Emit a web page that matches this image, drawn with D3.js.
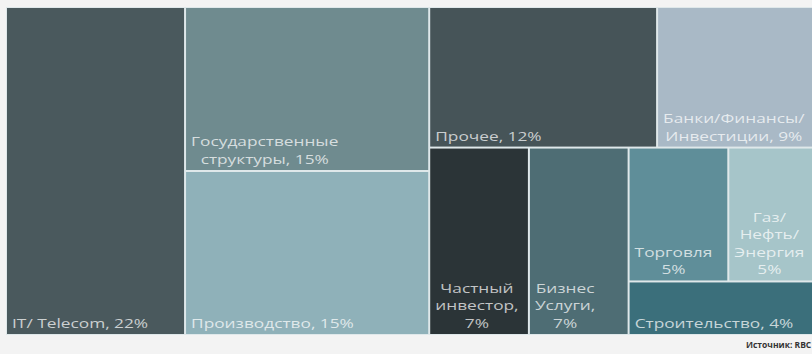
<!DOCTYPE html>
<html>
<head>
<meta charset="utf-8">
<script src="https://cdn.jsdelivr.net/npm/d3@7"></script>
<style>
  body { margin: 0; background: #f3f3f3; overflow: hidden; }
  svg { display: block; }
</style>
</head>
<body>
<div class="treemap"></div>
<script>
// data
var names  = ["IT/ Telecom", "Государственные структуры", "Производство", "Прочее", "Банки/Финансы/Инвестиции",
              "Частный инвестор", "Бизнес Услуги", "Торговля", "Газ/Нефть/Энергия", "Строительство"];
var values = [22, 15, 15, 12, 9, 7, 7, 5, 5, 4];
var labels = [["IT/ Telecom, 22%"], ["Государственные", "структуры, 15%"], ["Производство, 15%"], ["Прочее, 12%"],
              ["Банки/Финансы/", "Инвестиции, 9%"], ["Частный", "инвестор,", "7%"], ["Бизнес", "Услуги,", "7%"],
              ["Торговля", "5%"], ["Газ/", "Нефть/", "Энергия", "5%"], ["Строительство, 4%"]];
var colors = ["#4a595d", "#6f8b8f", "#8fb1b9", "#465458", "#a9b9c6",
              "#2b3437", "#4e6d74", "#5f8e99", "#a6c5c9", "#3b6f7b"];
var source = "Источник: RBC";

function leaf(i){ return {name: names[i], value: values[i], idx: i}; }

// how the blocks are nested in the picture
var tree = {name: "root", children: [
  leaf(0),
  {name: "g1", children: [leaf(1), leaf(2)]},
  {name: "g2", children: [
    {name: "top", children: [leaf(3), leaf(4)]},
    {name: "bottom", children: [leaf(5), leaf(6),
      {name: "g3", children: [
        {name: "g4", children: [leaf(7), leaf(8)]},
        leaf(9)
      ]}
    ]}
  ]}
]};

var W = 812, H = 354;
var marginLeft = 7, marginTop = 8;
var tw = 820, th = 326;
var sx = 1.28; // text in the picture is stretched sideways

var svg = d3.select(".treemap").append("svg")
  .attr("width", W).attr("height", H);

var root = d3.hierarchy(tree).sum(function(d){ return d.children ? 0 : d.value; });
d3.treemap()
  .tile(d3.treemapSliceDice)
  .size([tw, th])
  .paddingInner(2)
  (root);

var g = svg.append("g").attr("transform", `translate(${marginLeft},${marginTop})`);

g.append("rect")
  .attr("x", -1).attr("y", -1)
  .attr("width", tw + 2).attr("height", th + 2)
  .attr("fill", "#dfe8ea");

var cell = g.selectAll(".cell")
  .data(root.leaves())
  .enter().append("g")
  .attr("class", "cell");

cell.append("rect")
  .attr("x", d => d.x0).attr("y", d => d.y0)
  .attr("width", d => d.x1 - d.x0).attr("height", d => d.y1 - d.y0)
  .attr("fill", d => colors[d.data.idx]);

var lh = 17.5;
cell.each(function(d){
  var lines = labels[d.data.idx];
  var lg = d3.select(this).append("g");
  var t = lg.append("text")
    .attr("font-family", "'Open Sans', 'Noto Sans', sans-serif")
    .attr("font-size", 13.5)
    .attr("fill", "rgba(255,255,255,0.72)")
    .attr("text-anchor", "middle");
  var spans = t.selectAll("tspan").data(lines).enter().append("tspan").text(l => l);
  var maxW = 0;
  spans.each(function(){ maxW = Math.max(maxW, this.getComputedTextLength()); });
  var cx = d.x0 + 5 + maxW * sx / 2;
  var base = d.y1 - 6 - (lines.length - 1) * lh;
  spans.attr("x", 0).attr("y", (l, i) => base + i * lh);
  lg.attr("transform", `translate(${cx},0) scale(${sx},1)`);
});

svg.append("text")
  .attr("x", 746).attr("y", 348)
  .attr("font-family", "'Open Sans', sans-serif")
  .attr("font-size", 8.5)
  .attr("font-weight", "bold")
  .attr("fill", "#333")
  .text(source);
</script>
</body>
</html>
